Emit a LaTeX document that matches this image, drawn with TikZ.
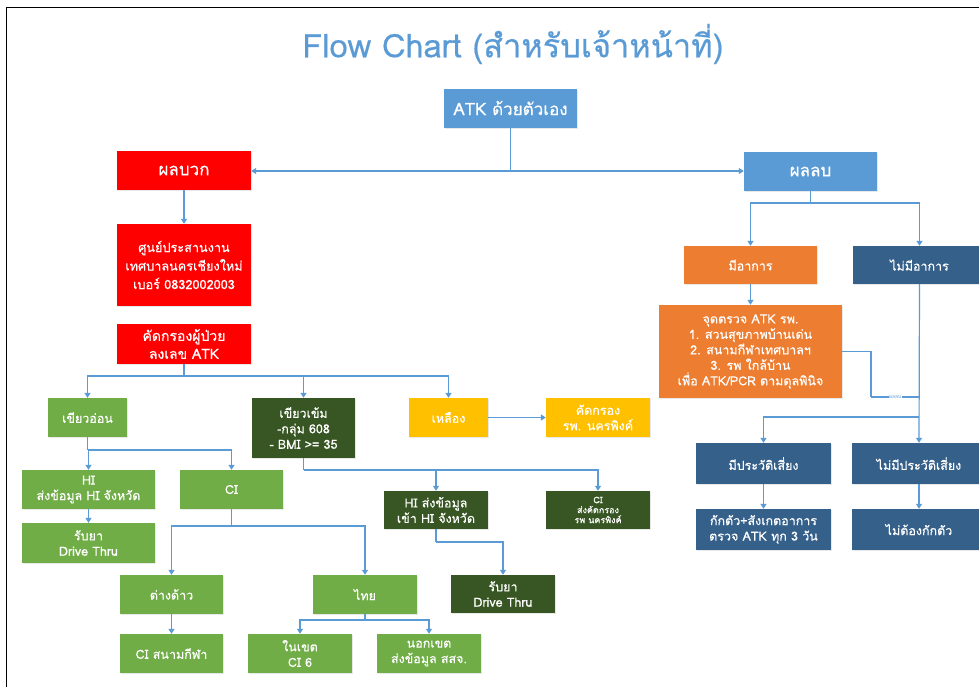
\documentclass[tikz,border=0pt]{standalone}
\usepackage{fontspec}
\setmainfont[Script=Thai]{Loma}
\newfontfamily\boxfont[Script=Thai,FakeBold=0.45]{Loma}
\usetikzlibrary{arrows.meta,shadows}

\definecolor{cblue}{HTML}{5B9BD5}
\definecolor{cred}{HTML}{FF0000}
\definecolor{corange}{HTML}{ED7D31}
\definecolor{cnavy}{HTML}{35608A}
\definecolor{cgreen}{HTML}{70AD47}
\definecolor{cdgreen}{HTML}{375623}
\definecolor{cyellow}{HTML}{FFC000}

\tikzset{
  box/.style={draw=none, text=white, align=center, inner sep=0pt,
    drop shadow={opacity=0.18, shadow xshift=1.2pt, shadow yshift=-1.2pt}},
  huge/.style={font=\boxfont\fontsize{17}{20}\selectfont},
  big/.style={font=\boxfont\fontsize{14}{18}\selectfont},
  hubf/.style={font=\boxfont\fontsize{12.7}{18.5}\selectfont},
  mid/.style={font=\boxfont\fontsize{12.5}{15.5}\selectfont},
  tiny/.style={font=\boxfont\fontsize{9}{10}\selectfont},
  conn/.style={draw=cblue, line width=1.2pt},
  arr/.style={conn, -{Triangle[length=5pt,width=6pt]}},
}

\begin{document}
\begin{tikzpicture}[x=1pt,y=-1pt]
\useasboundingbox (0,0) rectangle (979,686);
\fill[white] (0,0) rectangle (979,686);
% frame
\draw[black, line width=1.4pt] (6.5,700) -- (6.5,7.5) -- (990,7.5);

% title
\node[text=cblue, font=\boxfont\fontsize{32.5}{36}\selectfont] (title) at (513,44) {Flow Chart (สำหรับเจ้าหน้าที่)};

% top level
\node[box, huge, fill=cblue, minimum width=133pt, minimum height=39pt] (atk) at (510.5,108) {ATK ด้วยตัวเอง};
\node[box, huge, fill=cred, minimum width=134pt, minimum height=39pt] (pos) at (184,170.5) {ผลบวก};
\node[box, huge, fill=cblue, minimum width=133pt, minimum height=39pt] (neg) at (810.5,171.5) {ผลลบ};

% positive branch
\node[box, hubf, fill=cred, minimum width=134pt, minimum height=82pt] (hub) at (184,265) {ศูนย์ประสานงาน\\เทศบาลนครเชียงใหม่\\เบอร์ 0832002003};
\node[box, big, fill=cred, minimum width=134pt, minimum height=40pt] (screen) at (184,344) {คัดกรองผู้ป่วย\\ลงเลข ATK};

\node[box, mid, fill=cgreen, minimum width=79pt, minimum height=39pt] (lgreen) at (87.5,417.5) {เขียวอ่อน};
\node[box, mid, fill=cdgreen, minimum width=103pt, minimum height=60pt] (dgreen) at (303.5,428) {เขียวเข้ม\\-กลุ่ม 608\\- BMI >= 35};
\node[box, mid, fill=cyellow, minimum width=79pt, minimum height=39pt] (yel) at (448.5,417.5) {เหลือง};
\node[box, mid, fill=cyellow, minimum width=104pt, minimum height=39pt] (yscreen) at (598,417.5) {คัดกรอง\\รพ. นครพิงค์};

\node[box, mid, fill=cgreen, minimum width=133pt, minimum height=39pt] (hi) at (88.5,489.5) {HI\\ส่งข้อมูล HI จังหวัด};
\node[box, mid, fill=cgreen, minimum width=103pt, minimum height=39pt] (ci) at (231.5,489.5) {CI};
\node[box, mid, fill=cgreen, minimum width=133pt, minimum height=40pt] (drivea) at (88.5,543) {รับยา\\Drive Thru};

\node[box, mid, fill=cgreen, minimum width=103pt, minimum height=39pt] (foreign) at (171.5,594.5) {ต่างด้าว};
\node[box, mid, fill=cgreen, minimum width=104pt, minimum height=39pt] (thai) at (365,594.5) {ไทย};
\node[box, mid, fill=cgreen, minimum width=103pt, minimum height=39pt] (stadium) at (171.5,653.5) {CI สนามกีฬา};
\node[box, mid, fill=cgreen, minimum width=104pt, minimum height=39pt] (inzone) at (300,653.5) {ในเขต\\CI 6};
\node[box, mid, fill=cgreen, minimum width=104pt, minimum height=39pt] (outzone) at (429,653.5) {นอกเขต\\ส่งข้อมูล สสจ.};

\node[box, mid, fill=cdgreen, minimum width=104pt, minimum height=38pt] (hib) at (436,510) {HI ส่งข้อมูล\\เข้า HI จังหวัด};
\node[box, tiny, fill=cdgreen, minimum width=104pt, minimum height=38pt] (cib) at (598,510) {CI\\ส่งคัดกรอง\\รพ นครพิงค์};
\node[box, mid, fill=cdgreen, minimum width=104pt, minimum height=38pt] (driveb) at (503,594) {รับยา\\Drive Thru};

% negative branch
\node[box, mid, fill=corange, minimum width=133pt, minimum height=38pt] (sym) at (750.5,265) {มีอาการ};
\node[box, mid, fill=cnavy, minimum width=133pt, minimum height=38pt] (nosym) at (919.5,265) {ไม่มีอาการ};
\node[box, mid, fill=corange, minimum width=183pt, minimum height=93pt] (check) at (750.5,351.5) {จุดตรวจ ATK รพ.\\1. สวนสุขภาพบ้านเด่น\\2. สนามกีฬาเทศบาลฯ\\3. รพ ใกล้บ้าน\\เพื่อ ATK/PCR ตามดุลพินิจ};
\node[box, mid, fill=cnavy, minimum width=135pt, minimum height=41pt] (risk) at (763.5,463.5) {มีประวัติเสี่ยง};
\node[box, mid, fill=cnavy, minimum width=134pt, minimum height=41pt] (norisk) at (919,463.5) {ไม่มีประวัติเสี่ยง};
\node[box, mid, fill=cnavy, minimum width=135pt, minimum height=41pt] (quar) at (763.5,529.5) {กักตัว+สังเกตอาการ\\ตรวจ ATK ทุก 3 วัน};
\node[box, mid, fill=cnavy, minimum width=134pt, minimum height=41pt] (noquar) at (919,529.5) {ไม่ต้องกักตัว};

% junction points
\coordinate (jtop) at (510.5,171);
\coordinate (jneg) at (810.5,203);
\coordinate (jscr) at (184,376);
\coordinate (jlg) at (87.5,450);
\coordinate (jci) at (231.5,526);
\coordinate (jthai) at (365,620);
\coordinate (jdg) at (303.5,470);
\coordinate (jhib) at (436,542);
\coordinate (jbend) at (871,397);
\coordinate (jrisk) at (919,417);

% connectors: top
\draw[conn] (atk.south) -- (jtop);
\draw[arr] (jtop) -- (jtop -| pos.east);
\draw[arr] (jtop) -- (jtop -| neg.west);

% connectors: positive
\draw[arr] (pos.south) -- (hub.north);
\draw[conn] (screen.south) -- (jscr);
\draw[arr] (jscr) -| (lgreen.north);
\draw[arr] (jscr) -| (dgreen.north);
\draw[arr] (jscr) -| (yel.north);
\draw[arr] (yel.east) -- (yscreen.west);
\draw[conn] (lgreen.south) -- (jlg);
\draw[arr] (jlg) -| (hi.north);
\draw[arr] (jlg) -| (ci.north);
\draw[arr] (hi.south) -- (drivea.north);
\draw[conn] (ci.south) -- (jci);
\draw[arr] (jci) -| (foreign.north);
\draw[arr] (jci) -| (thai.north);
\draw[arr] (foreign.south) -- (stadium.north);
\draw[conn] (thai.south) -- (jthai);
\draw[arr] (jthai) -| (inzone.north);
\draw[arr] (jthai) -| (outzone.north);
\draw[conn] (dgreen.south) -- (jdg);
\draw[arr] (jdg) -| (hib.north);
\draw[arr] (jdg) -| (cib.north);
\draw[conn] (hib.south) -- (jhib);
\draw[arr] (jhib) -| (driveb.north);

% connectors: negative
\draw[conn] (neg.south) -- (jneg);
\draw[arr] (jneg) -| (sym.north);
\draw[arr] (jneg) -| (nosym.north);
\draw[arr] (sym.south) -- (check.north);
\draw[conn] (check.east) -| (jbend);
\draw[conn] (jbend) -- node[fill=white, inner sep=0.5pt, text=cblue, font=\fontsize{5}{6}\selectfont] (neglabel) {ผลลบ} (jbend -| nosym.south);
\draw[arr] (nosym.south) -- (norisk.north);
\draw[arr] (jrisk) -| (risk.north);
\draw[arr] (risk.south) -- (quar.north);
\draw[arr] (norisk.south) -- (noquar.north);
\end{tikzpicture}
\end{document}
